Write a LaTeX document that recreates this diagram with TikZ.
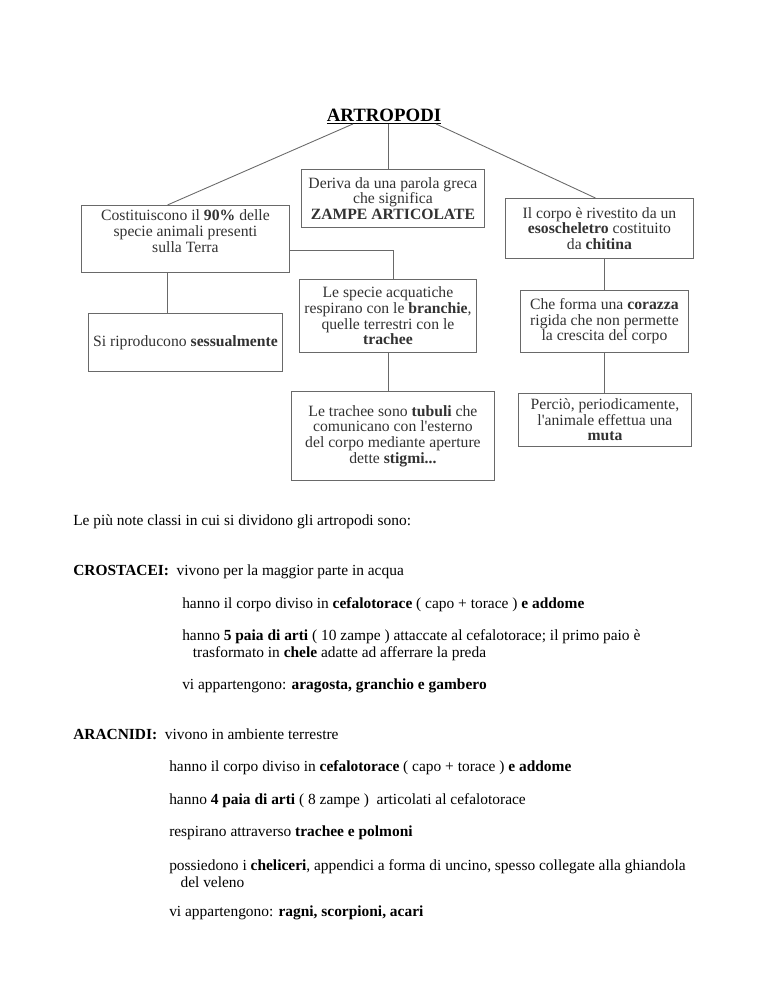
\documentclass[tikz,border=0pt]{standalone}
\usepackage{fontspec}
\setmainfont{Liberation Serif}
\usetikzlibrary{positioning,calc}
\newdimen\pxu \pxu=0.797pt
\definecolor{ink}{RGB}{50,50,50}
\definecolor{frame}{RGB}{105,105,105}
\tikzset{
  box/.style={draw=frame,line width=0.7pt,anchor=north west,inner sep=2pt,
    text=ink,align=center,font=\fontsize{12.5}{12.5}\selectfont},
  link/.style={draw=frame,line width=0.7pt},
  headline/.style={inner sep=0pt,font=\fontsize{15}{18}\selectfont\bfseries},
  lineitem/.style={anchor=west,inner sep=0pt,align=left,
    font=\fontsize{12.3}{13.5}\selectfont},
}
\begin{document}
\begin{tikzpicture}[x=0.797pt,y={(0pt,-0.797pt)}]
  \useasboundingbox (0,0) rectangle (768,994);
  % concept map
  \node[headline,anchor=base] (artro) at (384,121) {\underline{ARTROPODI}};
  \node[box,minimum width=208\pxu,minimum height=67\pxu] (costit) at (81,205)
    {Costituiscono il \textbf{90\%} delle\\specie animali presenti\\sulla Terra\\~};
  \node[box,minimum width=183\pxu,minimum height=58\pxu] (deriva) at (301,169)
    {Deriva da una parola greca\\che significa\\\textbf{ZAMPE ARTICOLATE}};
  \node[box,minimum width=188\pxu,minimum height=60\pxu] (corpo) at (505,198)
    {Il corpo è rivestito da un\\\textbf{esoscheletro} costituito\\da \textbf{chitina}};
  \node[box,minimum width=177\pxu,minimum height=73\pxu] (acqua) at (299,279)
    {Le specie acquatiche\\respirano con le \textbf{branchie},\\quelle terrestri con le\\\textbf{trachee}};
  \node[box,minimum width=194\pxu,minimum height=58\pxu] (riprod) at (88,313)
    {Si riproducono \textbf{sessualmente}};
  \node[box,minimum width=203\pxu,minimum height=89\pxu] (trachee) at (291,391)
    {Le trachee sono \textbf{tubuli} che\\comunicano con l\textquotesingle esterno\\del corpo mediante aperture\\dette \textbf{stigmi...}};
  \node[box,minimum width=168\pxu,minimum height=62\pxu] (corazza) at (520,290)
    {Che forma una \textbf{corazza}\\rigida che non permette\\la crescita del corpo};
  \node[box,minimum width=173\pxu,minimum height=53\pxu] (muta) at (518,393)
    {Perciò, periodicamente,\\l\textquotesingle animale effettua una\\\textbf{muta}};

  \draw[link] ($(artro.south)+(-31,0)$) -- ($(costit.north)+(-18,0)$);
  \draw[link] ($(artro.south)+(4,0)$) -- ($(artro.south |- deriva.north)+(4,0)$);
  \draw[link] ($(artro.south)+(52,0)$) -- ($(corpo.north)+(-4,0)$);
  \draw[link] ($(costit.east)+(0,11.5)$) -| ($(acqua.north)+(5.5,0)$);
  \coordinate (k1) at ($(costit.south)+(-18,0)$);
  \draw[link] (k1) -- (k1 |- riprod.north);
  \draw[link] (acqua.south) -- (acqua.south |- trachee.north);
  \draw[link] (corpo.south -| corazza.north) -- (corazza.north);
  \draw[link] (corazza.south) -- (corazza.south |- muta.north);

  % classes
  \node[lineitem] (intro) at (73,522) {Le più note classi in cui si dividono gli artropodi sono:};
  \node[lineitem] (crost) at (73,572) {\textbf{CROSTACEI:}\ \ vivono per la maggior parte in acqua};
  \node[lineitem] (c1) at (182,605) {hanno il corpo diviso in \textbf{cefalotorace} ( capo + torace ) \textbf{e addome}};
  \node[lineitem] (c2) at (182,645.5) {hanno \textbf{5 paia di arti} ( 10 zampe ) attaccate al cefalotorace; il primo paio è\\\hspace*{8.5pt}trasformato in \textbf{chele} adatte ad afferrare la preda};
  \node[lineitem] (c3) at (182,686) {vi appartengono: \textbf{aragosta, granchio e gambero}};
  \node[lineitem] (arac) at (73,734) {\textbf{ARACNIDI:}\ \ vivono in ambiente terrestre};
  \node[lineitem] (a1) at (169,768) {hanno il corpo diviso in \textbf{cefalotorace} ( capo + torace ) \textbf{e addome}};
  \node[lineitem] (a2) at (169,801) {hanno \textbf{4 paia di arti} ( 8 zampe )\ \ articolati al cefalotorace};
  \node[lineitem] (a3) at (169,833) {respirano attraverso \textbf{trachee e polmoni}};
  \node[lineitem] (a4) at (169,874) {possiedono i \textbf{cheliceri}, appendici a forma di uncino, spesso collegate alla ghiandola\\\hspace*{9pt}del veleno};
  \node[lineitem] (a5) at (169,913) {vi appartengono: \textbf{ragni, scorpioni, acari}};
\end{tikzpicture}
\end{document}
